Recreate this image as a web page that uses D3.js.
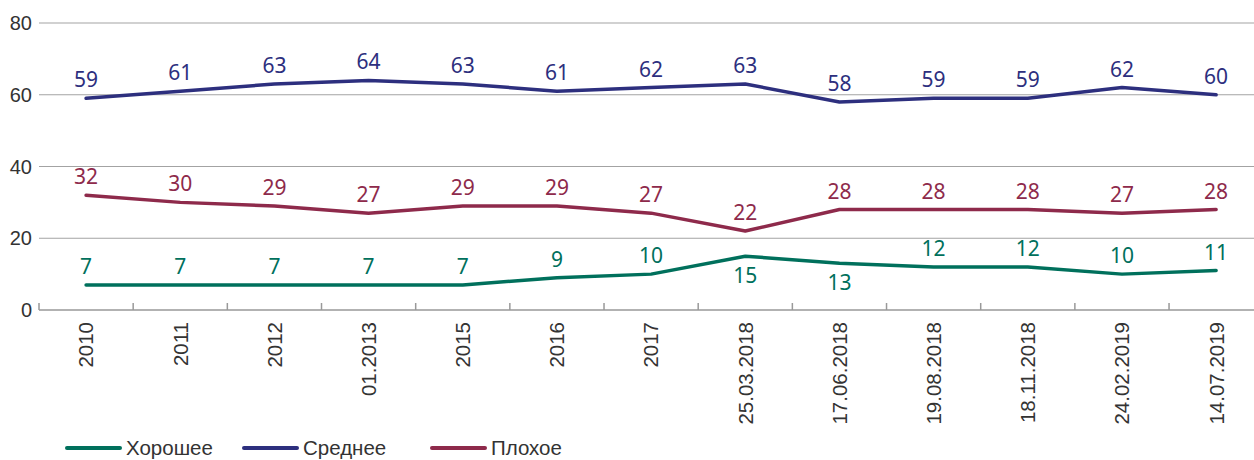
<!DOCTYPE html>
<html>
<head>
<meta charset="utf-8">
<script src="https://cdn.jsdelivr.net/npm/d3@7"></script>
<style>
  body { margin: 0; background: #fff; }
  svg { display: block; }
  .axis text { font-family: "Liberation Sans", Arial, sans-serif; fill: #333; }
  .val { font-family: "Noto Sans", "Open Sans", sans-serif; font-size: 21px; }
</style>
</head>
<body>
<svg id="chart"></svg>
<script>
const categories = ['2010', '2011', '2012', '01.2013', '2015', '2016', '2017',
    '25.03.2018', '17.06.2018', '19.08.2018', '18.11.2018', '24.02.2019', '14.07.2019'];
const good = [7, 7, 7, 7, 7, 9, 10, 15, 13, 12, 12, 10, 11];
const middle = [59, 61, 63, 64, 63, 61, 62, 63, 58, 59, 59, 62, 60];
const bad = [32, 30, 29, 27, 29, 29, 27, 22, 28, 28, 28, 27, 28];
const yTicks = [0, 20, 40, 60, 80];

const series = [
    { name: 'Хорошее', values: good, color: '#00705c', below: [7, 8] },
    { name: 'Среднее', values: middle, color: '#2d2f7e', below: [] },
    { name: 'Плохое', values: bad, color: '#8e2a4b', below: [] }
];

const chartW = 1254, chartH = 460;
const marginLeft = 39, marginTop = 23, axisY = 310;

const svg = d3.select('#chart')
    .attr('width', chartW)
    .attr('height', chartH);

const xScale = d3.scaleBand()
    .domain(categories)
    .range([marginLeft, marginLeft + 13 * 94.17]);

const yScale = d3.scaleLinear()
    .domain([0, 80])
    .range([axisY, marginTop]);

// grid lines
svg.append('g')
    .selectAll('line')
    .data(yTicks.filter(d => d > 0))
    .join('line')
    .attr('x1', marginLeft)
    .attr('x2', chartW)
    .attr('y1', d => yScale(d))
    .attr('y2', d => yScale(d))
    .attr('stroke', '#a3a3a3')
    .attr('stroke-width', 1.2);

// y labels
svg.append('g')
    .attr('class', 'axis')
    .selectAll('text')
    .data(yTicks)
    .join('text')
    .attr('x', 32)
    .attr('y', d => yScale(d))
    .attr('dy', '0.36em')
    .attr('text-anchor', 'end')
    .style('font-size', '20px')
    .text(d => d);

// x axis
const xAxis = d3.axisBottom(xScale).tickSize(0).tickPadding(0);
const xAxisG = svg.append('g')
    .attr('class', 'axis x-axis')
    .attr('transform', `translate(0,${axisY})`)
    .call(xAxis);
xAxisG.select('.domain').remove();
xAxisG.append('line')
    .attr('x1', marginLeft).attr('x2', chartW)
    .attr('stroke', '#999').attr('stroke-width', 1.5);
xAxisG.selectAll('.tick-mark')
    .data(categories)
    .join('line')
    .attr('class', 'tick-mark')
    .attr('x1', d => xScale(d)).attr('x2', d => xScale(d))
    .attr('y1', -7).attr('y2', 0)
    .attr('stroke', '#999').attr('stroke-width', 1.5);
xAxisG.selectAll('.tick text')
    .attr('transform', 'rotate(-90)')
    .attr('x', -12)
    .attr('y', 0)
    .attr('dy', '0.36em')
    .style('text-anchor', 'end')
    .style('font-size', '20.5px');

// lines
const line = d3.line()
    .x((d, i) => xScale(categories[i]) + xScale.bandwidth() / 2)
    .y(d => yScale(d));

series.forEach(s => {
    svg.append('path')
        .datum(s.values)
        .attr('fill', 'none')
        .attr('stroke', s.color)
        .attr('stroke-width', 3.5)
        .attr('stroke-linejoin', 'round')
        .attr('stroke-linecap', 'round')
        .attr('d', line);

    svg.append('g')
        .selectAll('text')
        .data(s.values)
        .join('text')
        .attr('class', 'val')
        .attr('x', (d, i) => xScale(categories[i]) + xScale.bandwidth() / 2)
        .attr('y', (d, i) => yScale(d) + (s.below.includes(i) ? 27 : -11))
        .attr('text-anchor', 'middle')
        .attr('fill', s.color)
        .text(d => d);
});

// legend
const legendX = [67, 244, 432];
const legend = svg.append('g')
    .selectAll('g')
    .data(series)
    .join('g')
    .attr('transform', (d, i) => `translate(${legendX[i]},448)`);
legend.append('line')
    .attr('x1', 0).attr('x2', 53)
    .attr('stroke', d => d.color)
    .attr('stroke-width', 4)
    .attr('stroke-linecap', 'round');
legend.append('text')
    .attr('x', 59)
    .attr('dy', '0.34em')
    .style('font-family', '"Liberation Sans", Arial, sans-serif')
    .style('font-size', '20.5px')
    .attr('fill', '#333')
    .text(d => d.name);
</script>
</body>
</html>
